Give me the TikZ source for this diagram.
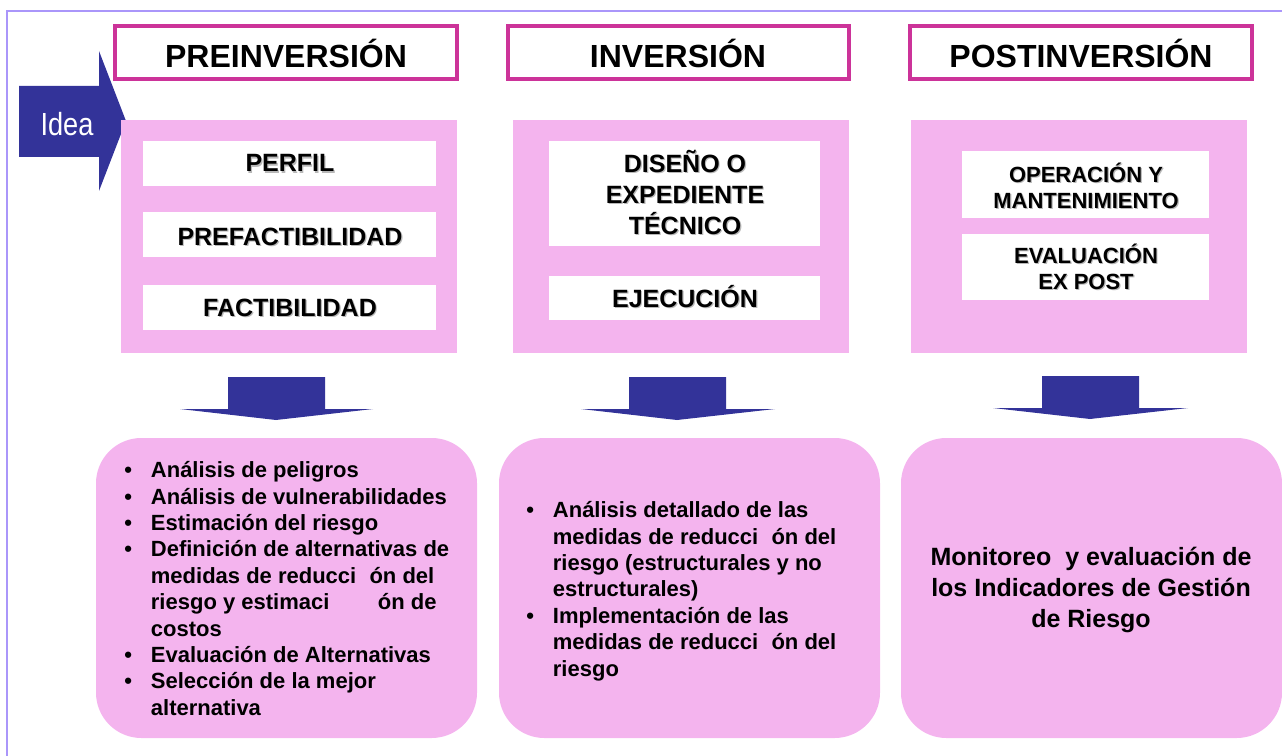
\documentclass[tikz,border=0pt]{standalone}
\usepackage{xcolor}
\usepackage{fontspec}
\setmainfont{Liberation Sans}
\usepackage{tikz}
\usetikzlibrary{shapes,arrows}

\definecolor{framelila}{RGB}{170,150,250}
\definecolor{rosa}{RGB}{244,180,238}
\definecolor{magenta}{RGB}{204,51,153}
\definecolor{azul}{RGB}{51,51,153}

% text with a light gray drop shadow
\newcommand{\shd}[1]{\makebox[0pt][l]{\kern0.9pt\raisebox{-0.9pt}{\textcolor{black!28}{#1}}}#1}
\newcommand{\gap}[1]{\hspace*{#1}}

\tikzset{
  titulo/.style={inner sep=0pt, font=\fontsize{24}{28}\selectfont\bfseries},
  etapa/.style={inner sep=0pt, align=center, font=\fontsize{18.75}{23.2}\selectfont\bfseries},
  etapachica/.style={inner sep=0pt, align=center, font=\fontsize{16.5}{19.5}\selectfont\bfseries},
  lista/.style={inner sep=0pt, anchor=north west, font=\fontsize{16.5}{19.8}\selectfont\bfseries},
}

\begin{document}
\begin{tikzpicture}[x=0.75pt,y=0.75pt,yscale=-1,xscale=1]
        \useasboundingbox (0,0) rectangle (1282,756);
        % frame
        \draw [framelila, line width=1.2pt] (7,756) -- (7,11) -- (1282,11);

        % title boxes
        \draw [magenta, line width=2.4pt, fill=white] (115,26) -- (457,26) -- (457,79) -- (115,79) -- cycle ;
        \draw [magenta, line width=2.4pt, fill=white] (508,26) -- (849,26) -- (849,79) -- (508,79) -- cycle ;
        \draw [magenta, line width=2.4pt, fill=white] (910,26) -- (1252,26) -- (1252,79) -- (910,79) -- cycle ;

        % idea arrow
        \fill [azul] (19,86) -- (99,86) -- (99,51) -- (126,121) -- (99,191) -- (99,157) -- (19,157) -- cycle ;

        % pink stage boxes
        \fill [rosa] (121,120) -- (457,120) -- (457,353) -- (121,353) -- cycle ;
        \fill [rosa] (513,120) -- (849,120) -- (849,353) -- (513,353) -- cycle ;
        \fill [rosa] (911,120) -- (1247,120) -- (1247,353) -- (911,353) -- cycle ;

        % white inner boxes
        \fill [white] (143,141) -- (436,141) -- (436,186) -- (143,186) -- cycle ;
        \fill [white] (143,212) -- (436,212) -- (436,257) -- (143,257) -- cycle ;
        \fill [white] (143,285) -- (436,285) -- (436,330) -- (143,330) -- cycle ;
        \fill [white] (549,141) -- (820,141) -- (820,246) -- (549,246) -- cycle ;
        \fill [white] (549,276) -- (820,276) -- (820,320) -- (549,320) -- cycle ;
        \fill [white] (962,151) -- (1209,151) -- (1209,218) -- (962,218) -- cycle ;
        \fill [white] (962,234) -- (1209,234) -- (1209,300) -- (962,300) -- cycle ;

        % down arrows
        \fill [azul] (228,377) -- (325,377) -- (325,409) -- (373,409) -- (276,420) -- (180,409) -- (228,409) -- cycle ;
        \fill [azul] (629,377) -- (726,377) -- (726,409) -- (775,409) -- (677,420) -- (581,409) -- (629,409) -- cycle ;
        \fill [azul] (1042,376) -- (1139,376) -- (1139,408) -- (1188,408) -- (1090,419) -- (993,408) -- (1042,408) -- cycle ;

        % bottom rounded boxes
        \fill [rosa, rounded corners=34pt] (96,438) rectangle (477,738);
        \fill [rosa, rounded corners=34pt] (499,438) rectangle (880,738);
        \fill [rosa, rounded corners=34pt] (901,438) rectangle (1282,738);

        % labels
        \draw (286,53) node [titulo] (tpre) {PREINVERSIÓN};
        \draw (678,53) node [titulo] (tinv) {INVERSIÓN};
        \draw (1081,53) node [titulo] (tpost) {POSTINVERSIÓN};
        \draw (67,124) node [inner sep=0pt, text=white, font=\fontsize{24}{28}\selectfont] (idea) {\scalebox{0.85}[1]{Idea}};

        \draw (290,164) node [etapa] (perfil) {\shd{PERFIL}};
        \draw (290,237) node [etapa] (prefact) {\shd{PREFACTIBILIDAD}};
        \draw (290,308) node [etapa] (fact) {\shd{FACTIBILIDAD}};
        \draw (685,193) node [etapa] (diseno) {\shd{DISEÑO O}\\\shd{EXPEDIENTE}\\\shd{TÉCNICO}};
        \draw (685,297) node [etapa] (ejec) {\shd{EJECUCIÓN}};
        \draw (1086,186) node [etapachica] (operac) {\shd{OPERACIÓN Y}\\\shd{MANTENIMIENTO}};
        \draw (1086,267) node [etapachica] (evalpost) {\shd{EVALUACIÓN}\\\shd{EX POST}};

        \draw (124,459) node [lista] (lpre) {\begin{tabular}{@{}p{20pt}@{}l@{}}
          \textbullet & Análisis de peligros\\
          \textbullet & Análisis de vulnerabilidades\\
          \textbullet & Estimación del riesgo\\
          \textbullet & Definición de alternativas de\\
                      & medidas de reducci\gap{0.6em}ón del\\
                      & riesgo y estimaci\gap{2.2em}ón de\\
                      & costos\\
          \textbullet & Evaluación de Alternativas\\
          \textbullet & Selección de la mejor\\
                      & alternativa
        \end{tabular}};
        \draw (526,499) node [lista] (linv) {\begin{tabular}{@{}p{20pt}@{}l@{}}
          \textbullet & Análisis detallado de las\\
                      & medidas de reducci\gap{0.6em}ón del\\
                      & riesgo (estructurales y no\\
                      & estructurales)\\
          \textbullet & Implementación de las\\
                      & medidas de reducci\gap{0.6em}ón del\\
                      & riesgo
        \end{tabular}};
        \draw (1091,590) node [inner sep=0pt, align=center, font=\fontsize{18.75}{23.6}\selectfont\bfseries] (lpost) {Monitoreo\ \ y evaluación de\\los Indicadores de Gestión\\de Riesgo};
    \end{tikzpicture}
\end{document}
